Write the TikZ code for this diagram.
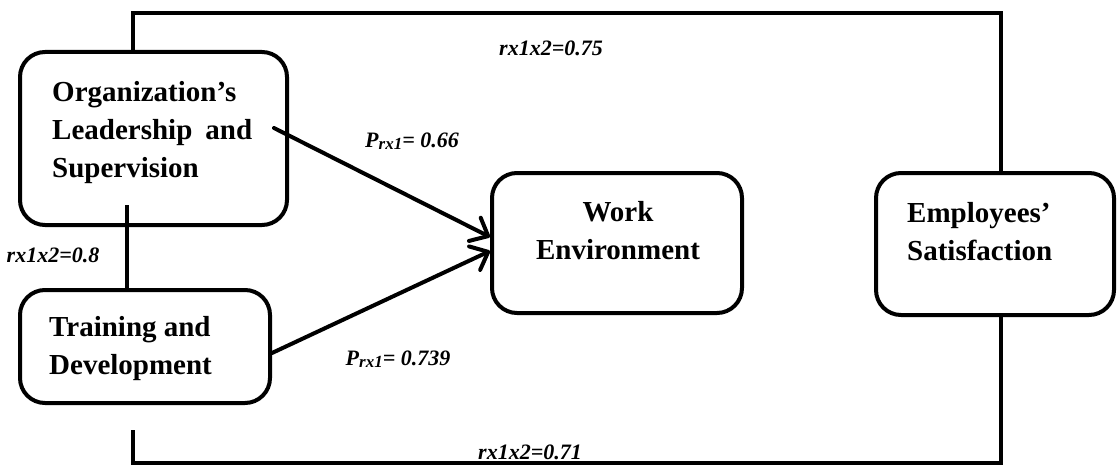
\documentclass[tikz,border=0pt]{standalone}
\usepackage{fontspec}
\setmainfont{Liberation Serif}
\usetikzlibrary{arrows.meta}
\begin{document}
\begin{tikzpicture}[x=1pt,y=-1pt,
  box/.style={draw, line width=4pt, rounded corners=25pt, inner sep=0pt},
  btext/.style={font=\fontsize{29}{38}\selectfont\bfseries, align=left, inner sep=0pt, anchor=north west},
  lbl/.style={font=\fontsize{22}{24}\selectfont\bfseries\itshape, inner sep=0pt},
  link/.style={line width=4pt},
  arr/.style={line width=4pt, line cap=round, -{Straight Barb[round,length=15pt,width=26pt]}}
]
\useasboundingbox (0,0) rectangle (1118,468);

% boxes
\node[box, minimum width=267pt, minimum height=173pt] (org) at (153.5,138.5) {};
\node[box, minimum width=250pt, minimum height=113pt] (train) at (145,346.5) {};
\node[box, minimum width=250pt, minimum height=140pt] (work) at (617,243) {};
\node[box, minimum width=238pt, minimum height=142pt] (emp) at (995,244) {};

% box texts
\node[btext] (orgt) at (52,81) {Organization’s\\Leadership\hspace{0.2em} and\\Supervision};
\node[btext] (traint) at (49,316) {Training and\\Development};
\node[btext, anchor=north, align=center] (workt) at (618,201) {Work\\Environment};
\node[btext] (empt) at (907,202) {Employees’\\Satisfaction};

% frame connectors
\coordinate (tl) at (133,13);
\coordinate (tr) at (1001,13);
\coordinate (bl) at (133,463);
\coordinate (br) at (1001,463);
\coordinate (blt) at (133,430);
\coordinate (m1) at (127,205);
\draw[link] (org.north -| tl) -- (tl) -- (tr) -- (emp.north -| tr);
\draw[link] (blt) -- (bl) -- (br) -- (emp.south -| br);
\draw[link] (m1) -- (train.north -| m1);

% arrows
\draw[arr] ([xshift=-15pt,yshift=10.5pt]org.east) -- ([yshift=6pt]work.west);
\draw[arr] ([yshift=-6.5pt]train.east) -- ([yshift=-8pt]work.west);

% labels
\node[lbl] (l75) at (551,48) {rx1x2=0.75};
\node[lbl] (l66) at (412,141) {P\raisebox{-2pt}{\fontsize{17}{17}\selectfont rx1}= 0.66};
\node[lbl] (l739) at (398,359) {P\raisebox{-2pt}{\fontsize{17}{17}\selectfont rx1}= 0.739};
\node[lbl] (l8) at (53,255) {rx1x2=0.8};
\node[lbl] (l71) at (530,452) {rx1x2=0.71};
\end{tikzpicture}
\end{document}
